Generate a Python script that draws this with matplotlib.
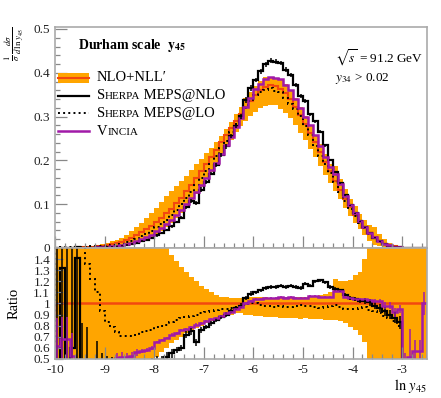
import numpy as np
import matplotlib
matplotlib.use("Agg")
import matplotlib.pyplot as plt
from matplotlib.ticker import MultipleLocator, FixedLocator, FuncFormatter
from matplotlib.offsetbox import TextArea, HPacker, VPacker, DrawingArea, AnchoredOffsetbox
from matplotlib.lines import Line2D
from matplotlib.patches import Rectangle

plt.rcParams['font.family'] = ['Liberation Serif', 'DejaVu Serif']
plt.rcParams['mathtext.fontset'] = 'stix'
plt.rcParams['axes.unicode_minus'] = False

ORANGE = '#ffa500'
RED = '#f2480f'
PURPLE = '#a11aa8'
SPINE = '#aaaaaa'

# 75 bins of width 0.1 in ln y45, from -10 to -2.5
edges = np.linspace(-10, -2.5, 76)

# NLO+NLL' central value (top panel)
nll = [0.0003, 0.0005, 0.0007, 0.0009, 0.0012, 0.0016, 0.0021, 0.0028, 0.0037, 0.0050,
       0.0066, 0.0086, 0.011, 0.014, 0.018, 0.023, 0.029, 0.036, 0.043, 0.051,
       0.060, 0.069, 0.079, 0.090, 0.102, 0.115, 0.129, 0.144, 0.159, 0.175,
       0.191, 0.207, 0.224, 0.241, 0.258, 0.275, 0.291, 0.307, 0.322, 0.336,
       0.349, 0.360, 0.368, 0.372, 0.370, 0.364, 0.354, 0.340, 0.323, 0.304,
       0.284, 0.263, 0.241, 0.219, 0.197, 0.175, 0.153, 0.132, 0.112, 0.093,
       0.076, 0.060, 0.046, 0.034, 0.024, 0.016, 0.010, 0.006, 0.0035, 0.0019,
       0.0010, 0.0005, 0.0002, 0.0001, 0.00005]

# uncertainty band, as ratio to the central value (ratio panel)
band_hi = [2.2, 2.2, 2.1, 2.1, 2.0, 2.0, 1.95, 1.9, 1.9, 1.85,
           1.8, 1.8, 1.75, 1.7, 1.7, 1.65, 1.62, 1.6, 1.58, 1.56,
           1.54, 1.52, 1.50, 1.44, 1.38, 1.33, 1.28, 1.24, 1.20, 1.16,
           1.13, 1.10, 1.08, 1.06, 1.055, 1.05, 1.05, 1.05, 1.06, 1.06,
           1.06, 1.06, 1.06, 1.05, 1.05, 1.06, 1.06, 1.06, 1.06, 1.06,
           1.06, 1.07, 1.07, 1.08, 1.09, 1.10, 1.22, 1.20, 1.20, 1.21,
           1.26, 1.28, 1.40, 1.55, 2.0, 2.0, 2.0, 2.0, 2.0, 2.0,
           2.0, 2.0, 2.0, 2.0, 2.0]
band_lo = [0.2, 0.2, 0.22, 0.24, 0.26, 0.28, 0.3, 0.32, 0.34, 0.36,
           0.38, 0.40, 0.41, 0.42, 0.43, 0.44, 0.45, 0.46, 0.47, 0.49,
           0.52, 0.56, 0.60, 0.64, 0.67, 0.70, 0.73, 0.76, 0.78, 0.80,
           0.82, 0.84, 0.86, 0.88, 0.89, 0.90, 0.91, 0.91, 0.90, 0.90,
           0.89, 0.89, 0.88, 0.88, 0.88, 0.87, 0.87, 0.87, 0.87, 0.86,
           0.87, 0.86, 0.86, 0.86, 0.85, 0.85, 0.85, 0.84, 0.82, 0.79,
           0.76, 0.72, 0.65, 0.50, 0.30, 0.30, 0.30, 0.30, 0.30, 0.30,
           0.3, 0.3, 0.3, 0.3, 0.3]

# ratios to NLO+NLL'
r_nlo = [0.35, 1.32, 0.30, 0.60, 1.41, 0.42, 0.35, 0.30, 0.32, 0.30,
         0.33, 0.36, 0.36, 0.38, 0.38, 0.40, 0.41, 0.43, 0.44, 0.46,
         0.48, 0.49, 0.52, 0.55, 0.58, 0.60, 0.72, 0.75, 0.65, 0.76,
         0.79, 0.82, 0.85, 0.88, 0.90, 0.93, 0.96, 0.98, 1.05, 1.09,
         1.10, 1.12, 1.14, 1.15, 1.15, 1.16, 1.15, 1.16, 1.15, 1.14,
         1.18, 1.16, 1.20, 1.21, 1.19, 1.15, 1.13, 1.12, 1.08, 1.05,
         1.04, 1.02, 1.02, 1.01, 0.98, 0.96, 0.93, 0.90, 0.87, 0.83,
         0, 0, 0, 0, 0]
r_nlo_err = [1.2, 1.0, 1.2, 0.9, 1.0, 0.40, 0.44, 0.20, 0.34, 0.25,
             0.20, 0.16, 0.10, 0.10, 0.08, 0.07, 0.06, 0.06, 0.05, 0.05,
             0.05, 0.04, 0.04, 0.04, 0.03, 0.03, 0.03, 0.03, 0.03, 0.03,
             0.02, 0.02, 0.02, 0.02, 0.02, 0.02, 0.02, 0.02, 0.02, 0.02,
             0.015, 0.015, 0.015, 0.015, 0.015, 0.015, 0.015, 0.015, 0.015, 0.015,
             0.015, 0.015, 0.015, 0.015, 0.015, 0.015, 0.015, 0.015, 0.015, 0.015,
             0.02, 0.02, 0.025, 0.03, 0.03, 0.035, 0.04, 0.04, 0.05, 0.06,
             0, 0, 0, 0, 0]
r_lo = [2.5, 2.4, 2.3, 2.1, 1.9, 1.6, 1.36, 1.22, 1.10, 0.93,
        0.83, 0.79, 0.74, 0.71, 0.71, 0.71, 0.72, 0.74, 0.75, 0.76,
        0.79, 0.80, 0.81, 0.83, 0.85, 0.87, 0.88, 0.89, 0.90, 0.91,
        0.92, 0.93, 0.94, 0.95, 0.95, 0.96, 0.97, 0.98, 0.99, 1.00,
        1.00, 0.99, 0.98, 0.98, 0.97, 0.98, 0.97, 0.97, 0.98, 0.99,
        0.98, 0.98, 0.97, 0.96, 0.97, 0.98, 0.99, 0.97, 0.95, 0.95,
        0.95, 0.96, 0.97, 0.94, 0.93, 0.91, 0.89, 0.87, 0.84, 0.80,
        0, 0, 0, 0, 0]
r_vincia = [0.62, 0.68, 0.68, 0.53, 0.35, 0.30, 0.30, 0.32, 0.34, 0.36,
            0.40, 0.45, 0.51, 0.52, 0.52, 0.53, 0.56, 0.57, 0.58, 0.60,
            0.65, 0.67, 0.69, 0.72, 0.73, 0.76, 0.77, 0.79, 0.81, 0.82,
            0.84, 0.86, 0.87, 0.89, 0.91, 0.92, 0.95, 0.97, 1.00, 1.02,
            1.04, 1.04, 1.05, 1.05, 1.05, 1.06, 1.05, 1.06, 1.05, 1.05,
            1.05, 1.07, 1.07, 1.06, 1.06, 1.06, 1.11, 1.11, 1.06, 1.05,
            1.04, 1.04, 1.04, 1.03, 1.02, 1.02, 0.98, 0.98, 0.92, 0.95,
            0.45, 0.52, 0.57, 0.57, 1.00]
r_vincia_err = [0.25, 0.2, 0.2, 0.2, 0.1, 0.1, 0.1, 0.1, 0.1, 0.1,
                0.05, 0.05, 0.04, 0.04, 0.03, 0.03, 0.03, 0.02, 0.02, 0.02,
                0.01, 0.01, 0.01, 0.01, 0.01, 0.01, 0.01, 0.01, 0.01, 0.01,
                0.01, 0.01, 0.01, 0.01, 0.01, 0.01, 0.01, 0.01, 0.01, 0.01,
                0.01, 0.01, 0.01, 0.01, 0.01, 0.01, 0.01, 0.01, 0.01, 0.01,
                0.01, 0.01, 0.01, 0.01, 0.01, 0.01, 0.01, 0.01, 0.01, 0.01,
                0.01, 0.01, 0.01, 0.01, 0.02, 0.02, 0.03, 0.03, 0.04, 0.04,
                0.1, 0.25, 0.1, 0.1, 0.1]

nll = np.array(nll)
band_hi = np.array(band_hi)
band_lo = np.array(band_lo)
r_nlo = np.array(r_nlo)
r_nlo_err = np.array(r_nlo_err)
r_lo = np.array(r_lo)
r_vincia = np.array(r_vincia)
r_vincia_err = np.array(r_vincia_err)

centers = 0.5 * (edges[:-1] + edges[1:])
width = edges[1] - edges[0]

fig = plt.figure(figsize=(4.41, 3.98), dpi=100)
ax = fig.add_axes([0.1247, 0.3769, 0.8435, 0.5553])
rax = fig.add_axes([0.1247, 0.098, 0.8435, 0.2789], sharex=ax)

# --- main panel
ax.bar(centers, nll * (band_hi - band_lo), bottom=nll * band_lo, width=width,
       color=ORANGE, linewidth=0)
ax.stairs(nll, edges, color=RED, lw=1.5)
ax.stairs(nll * r_nlo, edges, color='black', lw=1.6)
ax.errorbar(centers, nll * r_nlo, yerr=nll * r_nlo_err, fmt='none', ecolor='black', elinewidth=1.1)
ax.stairs(nll * r_lo, edges, color='black', lw=1.4, ls=':')
ax.stairs(nll * r_vincia, edges, color=PURPLE, lw=1.8)

# --- ratio panel
rax.bar(centers, band_hi - band_lo, bottom=band_lo, width=width, color=ORANGE, linewidth=0)
rax.stairs(nll / nll, edges, color=RED, lw=1.8)
rax.stairs(r_nlo, edges, color='black', lw=1.6)
rax.errorbar(centers, r_nlo, yerr=r_nlo_err, fmt='none', ecolor='black', elinewidth=1.1)
rax.stairs(r_lo, edges, color='black', lw=1.4, ls=':')
rax.stairs(r_vincia, edges, color=PURPLE, lw=1.8)
rax.errorbar(centers, r_vincia, yerr=r_vincia_err, fmt='none', ecolor=PURPLE, elinewidth=1.1)

ax.set_xlim(-10, -2.5)
ax.set_ylim(0, 0.5046)
rax.set_ylim(0.5, 1.5)

for a in (ax, rax):
    for s in a.spines.values():
        s.set_color(SPINE)
        s.set_linewidth(1.2)
    a.tick_params(which='both', direction='in', top=False, right=False,
                  color='#888888', labelsize=9.5, labelcolor='#222222')
    a.tick_params(which='major', length=8.5, width=0.9)
    a.tick_params(which='minor', length=3.5, width=0.9)
    a.xaxis.set_major_locator(MultipleLocator(1))
    a.xaxis.set_minor_locator(MultipleLocator(0.2))

ax.tick_params(labelbottom=False)
ax.yaxis.set_major_locator(MultipleLocator(0.1))
ax.yaxis.set_minor_locator(MultipleLocator(0.02))
ax.yaxis.set_major_formatter(FuncFormatter(lambda v, p: '0' if abs(v) < 1e-9 else '%.1f' % v))
rax.yaxis.set_major_locator(FixedLocator([0.5, 0.6, 0.7, 0.8, 0.9, 1.0, 1.1, 1.2, 1.3, 1.4]))
rax.yaxis.set_major_formatter(FuncFormatter(lambda v, p: '%g' % round(v, 1)))
rax.tick_params(axis='y', which='major', length=6)

ax.set_ylabel(r'$\frac{1}{\sigma}\,\frac{d\sigma}{d\,\ln\,y_{45}}$', loc='top', fontsize=9)
ax.yaxis.set_label_coords(-0.078, 1.0)
rax.set_ylabel('Ratio', fontsize=10.5)
rax.yaxis.set_label_coords(-0.092, 0.5)
rax.set_xlabel(r'$\ln\,y_{45}$', loc='right', fontsize=10.5, labelpad=1)

ax.text(0.062, 0.918, r'Durham scale  $\mathbf{y}_{\mathbf{45}}$', transform=ax.transAxes,
        fontsize=10, fontweight='bold', va='center')
ax.text(0.753, 0.862, r'$\sqrt{s}$ = 91.2 GeV', transform=ax.transAxes, fontsize=9.5, va='center')
ax.text(0.753, 0.768, r'$y_{34}$ > 0.02', transform=ax.transAxes, fontsize=9.5, va='center')

# legend with small-caps names
def smallcaps(first, rest, tail, size=10.5):
    return HPacker(children=[TextArea(first, textprops=dict(size=size)),
                             TextArea(rest, textprops=dict(size=size * 0.76)),
                             TextArea(tail, textprops=dict(size=size))],
                   sep=0, pad=0, align='baseline')

def handle(kind):
    da = DrawingArea(22, 8, 0, 0)
    if kind == 'band':
        da.add_artist(Rectangle((0, 0.5), 22, 7, fc=ORANGE, ec='none'))
        da.add_artist(Line2D([0, 22], [4, 4], color=RED, lw=1.5))
    elif kind == 'solid':
        da.add_artist(Line2D([0, 22], [4, 4], color='black', lw=1.6))
    elif kind == 'dotted':
        da.add_artist(Line2D([0, 22], [4, 4], color='black', lw=1.4, ls=':'))
    else:
        da.add_artist(Line2D([0, 22], [4, 4], color=PURPLE, lw=1.8))
    return da

rows = [
    HPacker(children=[handle('band'), TextArea('NLO+NLL′', textprops=dict(size=10.5))], sep=6, pad=0, align='center'),
    HPacker(children=[handle('solid'), smallcaps('S', 'HERPA', ' MEPS@NLO')], sep=6, pad=0, align='center'),
    HPacker(children=[handle('dotted'), smallcaps('S', 'HERPA', ' MEPS@LO')], sep=6, pad=0, align='center'),
    HPacker(children=[handle('vincia'), smallcaps('V', 'INCIA', '')], sep=6, pad=0, align='center'),
]
leg = VPacker(children=rows, sep=3.5, pad=0, align='left')
anch = AnchoredOffsetbox(loc='upper left', child=leg, bbox_to_anchor=(0.008, 0.80),
                         bbox_transform=ax.transAxes, frameon=False, pad=0, borderpad=0)
ax.add_artist(anch)

fig.savefig('out.png', dpi=100)
